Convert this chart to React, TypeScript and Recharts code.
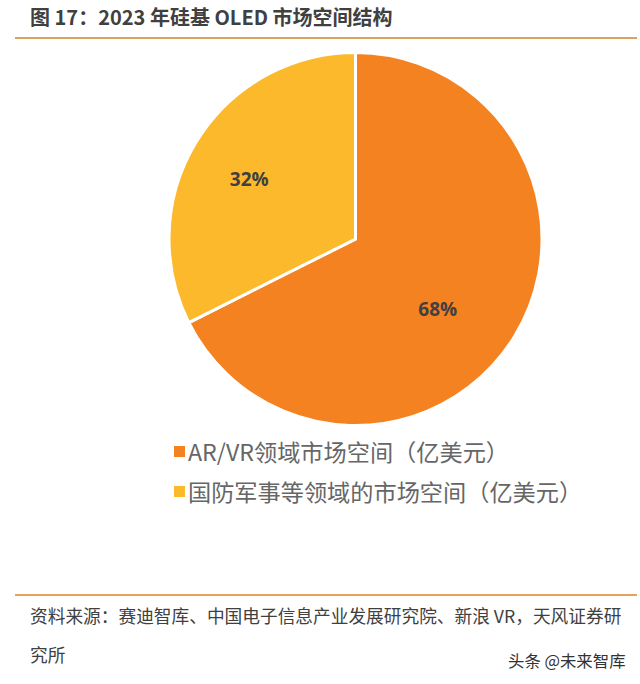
import { PieChart, Pie, Cell, Legend } from "recharts";

const categories = ["AR/VR领域市场空间（亿美元）", "国防军事等领域的市场空间（亿美元）"];
const shares = [67.6, 32.4];
const colors = ["#F58220", "#FDB92C"];
const labelNudges = [
  [-13, 11],
  [-11, -1],
];

const data = categories.map((name, i) => ({ name, value: shares[i] }));

const FONT = '"Noto Sans CJK SC", "Noto Sans", sans-serif';
const PIE_FONT = '"Open Sans", "Noto Sans", sans-serif';

function renderLabel({ cx, cy, midAngle, outerRadius, percent, index }: any) {
  const r = outerRadius * 0.6;
  const rad = (Math.PI / 180) * midAngle;
  const [dx, dy] = labelNudges[index];
  return (
    <text
      x={cx + r * Math.cos(rad) + dx}
      y={cy - r * Math.sin(rad) + dy}
      textAnchor="middle"
      dominantBaseline="central"
      fill="#404040"
      fontFamily={PIE_FONT}
      fontWeight={700}
      fontSize={19}
    >
      {`${Math.round(percent * 100)}%`}
    </text>
  );
}

function LegendList({ payload }: any) {
  return (
    <div>
      {(payload || []).map((p: any) => (
        <div key={p.value} style={{ display: "flex", alignItems: "center", height: 40, color: "#666666", fontSize: 23.2, fontFamily: FONT, whiteSpace: "nowrap" }}>
          <span style={{ width: 11, height: 11, background: p.color, marginRight: 3 }} />
          {p.value}
        </div>
      ))}
    </div>
  );
}

export default function App() {
  return (
    <div style={{ position: "absolute", left: 0, top: 0, width: 640, height: 684, background: "#fff", overflow: "hidden" }}>
      <div style={{ position: "absolute", left: 30, top: 2, fontFamily: FONT, fontWeight: 700, fontSize: 20, color: "#404040", whiteSpace: "nowrap" }}>
        图 17：2023 年硅基 OLED 市场空间结构
      </div>
      <div style={{ position: "absolute", left: 15, top: 37, width: 622, height: 2, background: "#D9A45F" }} />
      <PieChart width={640} height={684} margin={{ top: 0, right: 0, bottom: 0, left: 0 }} style={{ position: "absolute", left: 0, top: 0 }}>
        <Pie
          data={data}
          dataKey="value"
          nameKey="name"
          cx={355.5}
          cy={239}
          outerRadius={186.5}
          startAngle={90}
          endAngle={-270}
          stroke="#ffffff"
          strokeWidth={3}
          label={renderLabel}
          labelLine={false}
          isAnimationActive={false}
        >
          {data.map((d, i) => (
            <Cell key={d.name} fill={colors[i]} />
          ))}
        </Pie>
        <Legend
          layout="vertical"
          content={<LegendList />}
          wrapperStyle={{ left: 174, top: 431, width: 440, bottom: "auto" }}
        />
      </PieChart>
      <div style={{ position: "absolute", left: 15, top: 594, width: 622, height: 2, background: "#E8A15C" }} />
      <div style={{ position: "absolute", left: 30, top: 602, fontFamily: FONT, fontSize: 17.7, color: "#404040", whiteSpace: "nowrap" }}>
        资料来源：赛迪智库、中国电子信息产业发展研究院、新浪 VR，天风证券研
      </div>
      <div style={{ position: "absolute", left: 30, top: 641, fontFamily: FONT, fontSize: 17.7, color: "#404040", whiteSpace: "nowrap" }}>
        究所
      </div>
      <div style={{ position: "absolute", left: 508, top: 648, fontFamily: FONT, fontSize: 16.4, color: "#333333", whiteSpace: "nowrap" }}>
        头条 @未来智库
      </div>
    </div>
  );
}
